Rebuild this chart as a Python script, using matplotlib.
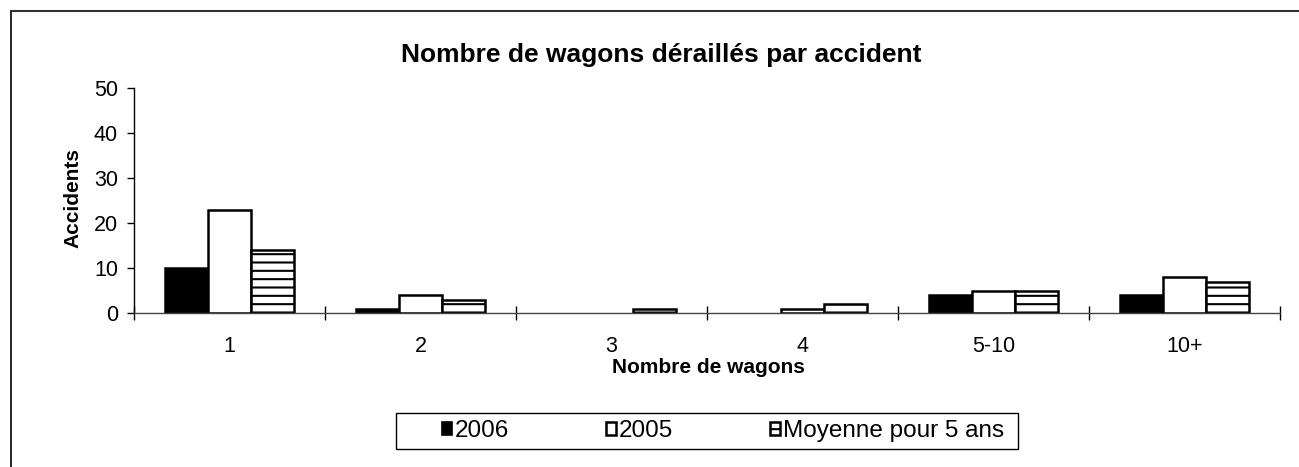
import matplotlib
matplotlib.use("Agg")
import matplotlib.pyplot as plt
from matplotlib.patches import Patch, Rectangle
from matplotlib.lines import Line2D
import numpy as np

plt.rcParams['font.family'] = ['Liberation Sans', 'DejaVu Sans']
plt.rcParams['hatch.linewidth'] = 1.5

categories = ["1", "2", "3", "4", "5-10", "10+"]
series_2006 = [10, 1, 0, 0, 4, 4]
series_2005 = [23, 4, 0, 1, 5, 8]
series_avg = [14, 3, 1, 2, 5, 7]
labels = ["2006", "2005", "Moyenne pour 5 ans"]
yticks = [0, 10, 20, 30, 40, 50]

W, H = 1299, 467
fig = plt.figure(figsize=(W / 100, H / 100), dpi=100)
ax = fig.add_axes([134 / W, 1 - 313 / H, (1280 - 134) / W, (313 - 88) / H])

x = np.arange(len(categories))
bw = 0.225
lw = 1.8


def widths(vals):
    return [lw if v > 0 else 0 for v in vals]


ax.bar(x - bw, series_2006, bw, color="black", edgecolor="black", linewidth=widths(series_2006))
ax.bar(x, series_2005, bw, color="white", edgecolor="black", linewidth=widths(series_2005))
ax.bar(x + bw, series_avg, bw, color="white", edgecolor="black", linewidth=widths(series_avg),
       hatch="--")

ax.set_xlim(-0.5, len(categories) - 0.5)
ax.set_ylim(0, 50)
ax.set_yticks(yticks)
ax.set_xticks(x)
ax.set_xticklabels(categories)
ax.set_xticks(np.arange(-0.5, len(categories), 1.0), minor=True)
ax.tick_params(axis="x", which="major", length=0, labelsize=15.5, pad=16.5)
ax.tick_params(axis="x", which="minor", direction="inout", length=9.5, width=1)
ax.tick_params(axis="y", direction="out", length=5, width=1, labelsize=15.5, pad=6.5)
for s in ["top", "right"]:
    ax.spines[s].set_visible(False)
ax.spines["left"].set_linewidth(1)
ax.spines["bottom"].set_linewidth(1)
ax.spines["bottom"].set_color("#444444")
ax.spines["bottom"].set_zorder(3)

ax.set_xlabel("Nombre de wagons", fontsize=15, fontweight="bold")
ax.xaxis.set_label_coords((708 - 134) / (1280 - 134), (313 - 358) / (313 - 88))
ax.set_ylabel("Accidents", fontsize=15, fontweight="bold", va="center")
ax.yaxis.set_label_coords((73 - 134) / (1280 - 134), (313 - 198) / (313 - 88))

fig.text(661 / W, 1 - 62 / H, "Nombre de wagons déraillés par accident",
         fontsize=19, fontweight="bold", ha="center", va="baseline")

# legend box
fig.add_artist(Rectangle((396 / W, 1 - 449 / H), (1018 - 396) / W, 36 / H,
                         transform=fig.transFigure, facecolor="white",
                         edgecolor="black", linewidth=1.0))
handles = [
    Patch(facecolor="black", edgecolor="black", linewidth=1.2),
    Patch(facecolor="white", edgecolor="black", linewidth=1.8),
    Patch(facecolor="white", edgecolor="black", linewidth=1.8, hatch="--"),
]
leg = fig.legend(handles, labels, loc="center left",
                 bbox_to_anchor=(442 / W, 1 - 449 / H, (1004 - 442) / W, 36 / H),
                 mode="expand", ncol=3, fontsize=17.5, frameon=False,
                 handlelength=0.42, handleheight=0.42, handletextpad=0.12,
                 borderaxespad=0, borderpad=0)

# outer frame (left and top border)
fig.add_artist(Line2D([10.5 / W, 10.5 / W], [0, 1 - 10.5 / H], transform=fig.transFigure,
                      color="black", linewidth=1.2))
fig.add_artist(Line2D([10.5 / W, 1], [1 - 10.5 / H, 1 - 10.5 / H], transform=fig.transFigure,
                      color="#333333", linewidth=1.5))

fig.savefig("out.png", dpi=100)
